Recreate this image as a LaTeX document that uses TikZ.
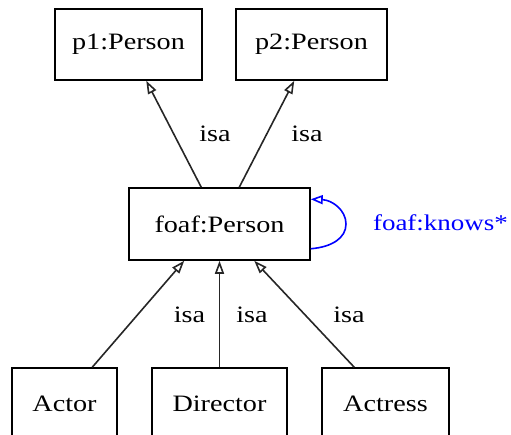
\documentclass[tikz,border=0pt]{standalone}
\usepackage{fontspec}
\setmainfont{Liberation Serif}[FakeStretch=1.2]
\usetikzlibrary{arrows.meta,calc}
\tikzset{
  cls/.style={draw=black, line width=1.5pt, inner sep=0pt, font=\fontsize{23.5}{26}\selectfont},
  isaedge/.style={draw=black!85, line width=1.6pt, -{Triangle[open, length=13pt, width=9pt]}},
  lbl/.style={font=\fontsize{23.5}{26}\selectfont, inner sep=0pt},
  loopedge/.style={draw=blue, line width=1.6pt, -{Triangle[open, length=12pt, width=9pt]}},
}
\begin{document}
\begin{tikzpicture}[x=1pt, y=-1pt]
  \useasboundingbox (0,0) rectangle (511,434);
  \clip (0,0) rectangle (511,434);
  % class boxes
  \node[cls, minimum width=147pt, minimum height=71pt] (p1) at (128.5,44.5) {p1:Person};
  \node[cls, minimum width=151pt, minimum height=71pt] (p2) at (311.5,44.5) {p2:Person};
  \node[cls, minimum width=181pt, minimum height=72pt] (foaf) at (219.5,224) {foaf:Person};
  \node[cls, minimum width=105pt, minimum height=72pt] (actor) at (64.5,404) {Actor};
  \node[cls, minimum width=135pt, minimum height=72pt] (director) at (219.5,404) {Director};
  \node[cls, minimum width=127pt, minimum height=72pt] (actress) at (385.5,404) {Actress};
  % isa edges
  \draw[isaedge] ($(foaf.north west)+(73,0)$) -- ($(p1.south west)+(92,0)$);
  \draw[isaedge] ($(foaf.north west)+(111,0)$) -- ($(p2.south west)+(59,0)$);
  \draw[isaedge] ($(actor.north west)+(81,0)$) -- ($(foaf.south west)+(56,0)$);
  \draw[isaedge] (director.north) -- (foaf.south);
  \draw[isaedge] ($(actress.north west)+(33,0)$) -- ($(foaf.south west)+(126,0)$);
  % edge labels
  \node[lbl] (l1) at (215,134) {isa};
  \node[lbl] (l2) at (307,134) {isa};
  \node[lbl] (l3) at (189.5,315) {isa};
  \node[lbl] (l4) at (252,315) {isa};
  \node[lbl] (l5) at (349,315) {isa};
  % self loop
  \coordinate (ls) at ($(foaf.south east)+(0,-12)$);
  \coordinate (le) at ($(foaf.north east)+(0,12)$);
  \draw[loopedge] (ls) .. controls (332,247) and (346,238) .. (346,224)
                        .. controls (346,210) and (332,200) .. (le);
  \node[lbl, text=blue, font=\fontsize{22.5}{26}\selectfont] (knows) at (440.5,223) {foaf:knows*};
\end{tikzpicture}
\end{document}
